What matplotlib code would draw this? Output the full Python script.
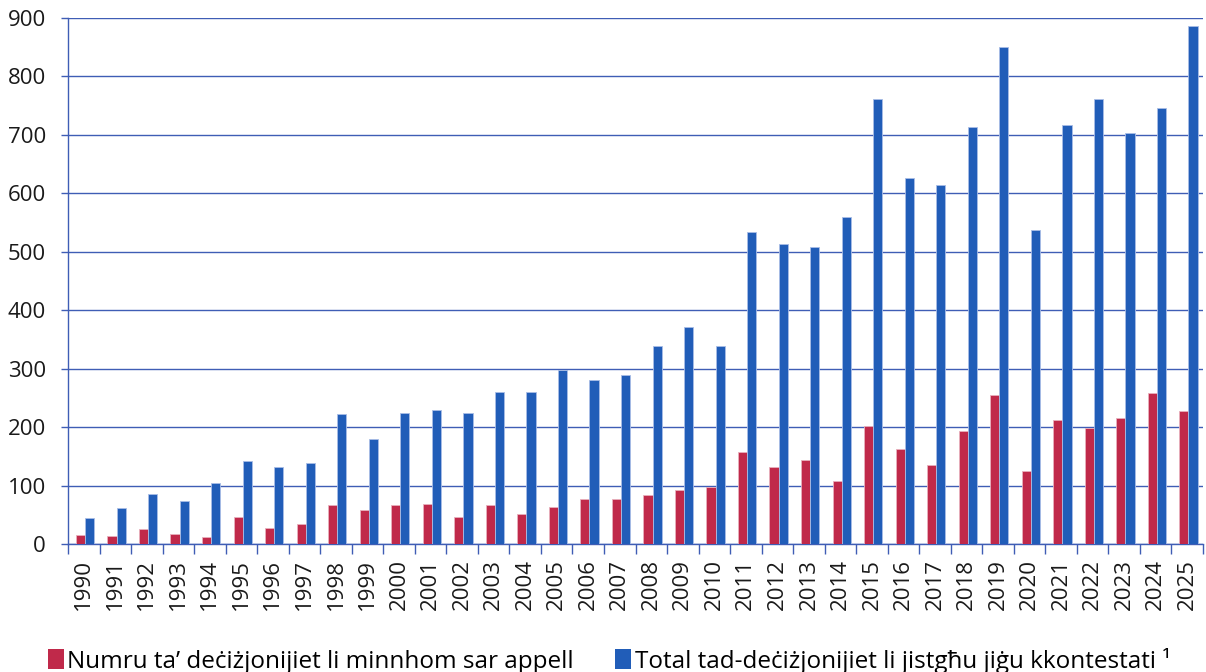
import matplotlib
matplotlib.use("Agg")
import matplotlib.pyplot as plt
from matplotlib.patches import Patch
import numpy as np

plt.rcParams['font.family'] = ['Open Sans', 'DejaVu Sans']

years = [str(y) for y in range(1990, 2026)]
appeals = [15, 13, 25, 17, 12, 47, 27, 35, 66, 59, 67, 68, 47, 66, 52, 63, 77, 77,
           83, 92, 97, 158, 132, 143, 108, 202, 163, 136, 194, 255, 125, 212, 199, 215, 258, 228]
total = [45, 61, 85, 73, 104, 142, 132, 138, 223, 180, 225, 230, 224, 260, 260, 297, 281, 290,
         338, 371, 338, 533, 514, 509, 559, 761, 626, 615, 713, 850, 537, 717, 761, 703, 746, 886]
yticks = list(range(0, 1000, 100))
label_red = "Numru ta’ deċiżjonijiet li minnhom sar appell"
label_blue = "Total tad-deċiżjonijiet li jistgħu jiġu kkontestati ¹"

RED = "#C0294A"
BLUE = "#215DB8"
AXC = "#3F5DB5"

fig = plt.figure(figsize=(12.06, 6.72), dpi=100)
ax = fig.add_axes([68/1206, 1 - 544/672, (1203-68)/1206, (544-18)/672])

x = np.arange(len(years))
w = 0.29
ax.bar(x - w/2 + 0.04, appeals, width=w, color=RED, edgecolor="#e8b0bd", linewidth=0.6, zorder=3)
ax.bar(x + w/2 + 0.04, total, width=w, color=BLUE, edgecolor="#a9bde6", linewidth=0.6, zorder=3)

ax.set_xlim(-0.5, len(years) - 0.5)
ax.set_ylim(0, 900)
ax.set_yticks(yticks)
ax.set_yticklabels([str(v) for v in yticks], fontsize=16, color="#1a1a1a")
ax.yaxis.grid(True, color=AXC, linewidth=1.0, zorder=0)
ax.tick_params(axis='y', length=5, color=AXC, width=1, pad=11)

# category labels at centers, ticks at boundaries
ax.set_xticks(x)
ax.set_xticklabels(years, rotation=90, fontsize=16, color="#1a1a1a")
ax.tick_params(axis='x', which='major', length=0, pad=11)
ax.set_xticks(np.arange(-0.5, len(years), 1), minor=True)
ax.tick_params(axis='x', which='minor', length=7, color=AXC, width=1)

for s in ['top', 'right']:
    ax.spines[s].set_visible(False)
ax.spines['left'].set_color(AXC)
ax.spines['bottom'].set_color(AXC)
ax.spines['left'].set_linewidth(1.0)
ax.spines['bottom'].set_linewidth(1.0)

handles = [Patch(facecolor=RED, label=label_red), Patch(facecolor=BLUE, label=label_blue)]
fig.legend(handles=handles, loc='lower center', bbox_to_anchor=(0.505, -0.035), ncol=2,
           frameon=False, fontsize=17.5, handlelength=0.65, handleheight=0.9,
           handletextpad=0.15, columnspacing=1.7)

fig.savefig("out.png", dpi=100)
